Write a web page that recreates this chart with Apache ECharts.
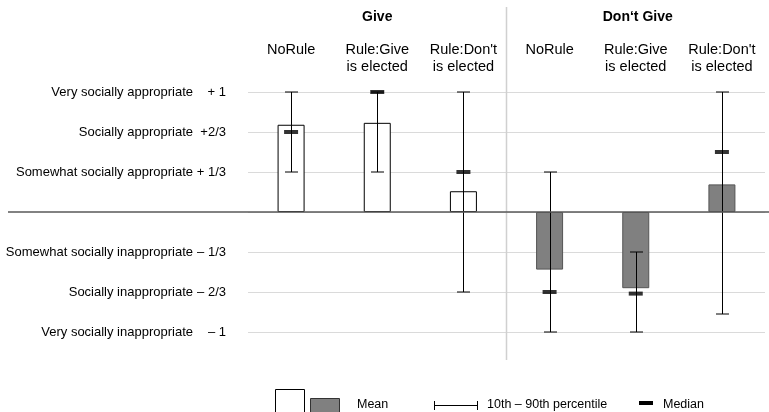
<!DOCTYPE html>
<html><head><meta charset="utf-8">
<script src="https://cdn.jsdelivr.net/npm/echarts@6.0.0/dist/echarts.min.js"></script>
<style>html,body{margin:0;padding:0;background:#fff}#c{width:769px;height:412px}</style>
</head><body><div id="c"></div>
<script>
const categories = ['NoRule', 'Rule:Give\nis elected', "Rule:Don't\nis elected", 'NoRule', 'Rule:Give\nis elected', "Rule:Don't\nis elected"];
const groups = ['Give', 'Don\u2018t Give'];
const meanValues = [0.727, 0.743, 0.173, -0.48, -0.635, 0.23];
const p10Values = [1/3, 1/3, -2/3, -1, -1, -0.85];
const p90Values = [1, 1, 1, 1/3, -1/3, 1];
const medianValues = [2/3, 1, 1/3, -2/3, -0.68, 0.5];
const yTickText = ['Very socially inappropriate', 'Socially inappropriate', 'Somewhat socially inappropriate', '', 'Somewhat socially appropriate', 'Socially appropriate', 'Very socially appropriate'];
const yTickValue = ['\u2013 1', '\u2013 2/3', '\u2013 1/3', '', '+ 1/3', '+2/3', '+ 1'];
const legendTexts = ['Mean', '10th \u2013 90th percentile', 'Median'];

const FONT = "'Liberation Sans', Arial, Helvetica, sans-serif";
const chart = echarts.init(document.getElementById('c'), null, {renderer: 'canvas'});

const option = {
  animation: false,
  textStyle: {fontFamily: FONT, color: '#000'},
  grid: {left: 248, right: 4, top: 92, bottom: 80},
  xAxis: {
    type: 'category', position: 'top', data: categories,
    axisLine: {show: false}, axisTick: {show: false}, splitLine: {show: false},
    axisLabel: {fontSize: 14.5, lineHeight: 17, color: '#000', fontFamily: FONT, verticalAlign: 'top', margin: 51, interval: 0}
  },
  yAxis: {
    type: 'value', min: -1, max: 1, interval: 1/3,
    axisLine: {show: false}, axisTick: {show: false},
    splitLine: {lineStyle: {color: '#dadada', width: 1}},
    axisLabel: {
      margin: 22, color: '#000', fontFamily: FONT, fontSize: 13,
      formatter: function (v) {
        const i = Math.round(v * 3) + 3;
        if (!yTickText[i]) return '';
        return '{a|' + yTickText[i] + '}{b|' + yTickValue[i] + '}';
      },
      rich: {
        a: {fontSize: 13, fontFamily: FONT, color: '#000', padding: [0, 3, 0, 0]},
        b: {fontSize: 13, fontFamily: FONT, color: '#000', width: 30, align: 'right'}
      }
    }
  },
  series: [
    {
      type: 'bar', barWidth: 27, z: 2,
      data: meanValues.map((v, i) => ({
        value: v,
        itemStyle: i < 3 ? {color: '#ffffff', borderColor: '#000', borderWidth: 1}
                         : {color: '#808080', borderColor: '#555', borderWidth: 1}
      }))
    },
    {
      type: 'custom', z: 3,
      data: categories.map((c, i) => [i, p10Values[i], p90Values[i]]),
      encode: {x: 0, y: [1, 2]},
      renderItem: function (params, api) {
        const lo = api.coord([api.value(0), api.value(1)]);
        const hi = api.coord([api.value(0), api.value(2)]);
        const x = Math.round(lo[0]) + 0.5, hw = 6.5;
        const st = {stroke: '#000', lineWidth: 1};
        return {type: 'group', children: [
          {type: 'line', shape: {x1: x, y1: lo[1], x2: x, y2: hi[1]}, style: st},
          {type: 'line', shape: {x1: x - hw, y1: lo[1], x2: x + hw, y2: lo[1]}, style: st},
          {type: 'line', shape: {x1: x - hw, y1: hi[1], x2: x + hw, y2: hi[1]}, style: st}
        ]};
      }
    },
    {
      type: 'scatter', z: 4, symbol: 'rect', symbolSize: [14, 4],
      itemStyle: {color: '#000'},
      data: medianValues.map((v, i) => [i, v])
    }
  ]
};
chart.setOption(option);

const y0 = chart.convertToPixel({yAxisIndex: 0}, 0);
const xs = categories.map((c, i) => chart.convertToPixel({xAxisIndex: 0}, i));
const bw = xs[1] - xs[0];
const gridLeft = xs[0] - bw / 2;
const sepX = (xs[2] + xs[3]) / 2;
const W = chart.getWidth();
const ly = 405;
chart.setOption({
  graphic: [
    {type: 'line', z: 10, shape: {x1: 8, y1: y0, x2: W, y2: y0}, style: {stroke: '#595959', lineWidth: 1.5}},
    {type: 'line', z: 1, shape: {x1: sepX, y1: 7, x2: sepX, y2: 360}, style: {stroke: '#d0d0d0', lineWidth: 1.5}},
    {type: 'text', x: (gridLeft + sepX) / 2, y: 17, style: {text: groups[0], fontSize: 14, fontWeight: 'bold', fontFamily: FONT, fill: '#000', align: 'center', verticalAlign: 'middle'}},
    {type: 'text', x: (sepX + W) / 2, y: 17, style: {text: groups[1], fontSize: 14, fontWeight: 'bold', fontFamily: FONT, fill: '#000', align: 'center', verticalAlign: 'middle'}},
    {type: 'rect', shape: {x: 275.5, y: 389.5, width: 29, height: 30}, style: {fill: '#fff', stroke: '#000', lineWidth: 1}},
    {type: 'rect', shape: {x: 310.5, y: 398.5, width: 29, height: 20}, style: {fill: '#808080', stroke: '#333', lineWidth: 1}},
    {type: 'text', x: 357, y: ly, style: {text: legendTexts[0], fontSize: 12.5, fontFamily: FONT, fill: '#000', verticalAlign: 'middle'}},
    {type: 'line', shape: {x1: 434, y1: ly + 0.5, x2: 478, y2: ly + 0.5}, style: {stroke: '#000', lineWidth: 1}},
    {type: 'line', shape: {x1: 434.5, y1: ly - 4, x2: 434.5, y2: ly + 5}, style: {stroke: '#000', lineWidth: 1}},
    {type: 'line', shape: {x1: 477.5, y1: ly - 4, x2: 477.5, y2: ly + 5}, style: {stroke: '#000', lineWidth: 1}},
    {type: 'text', x: 487, y: ly, style: {text: legendTexts[1], fontSize: 12.5, fontFamily: FONT, fill: '#000', verticalAlign: 'middle'}},
    {type: 'rect', shape: {x: 639, y: 401, width: 14, height: 4}, style: {fill: '#000'}},
    {type: 'text', x: 663, y: ly, style: {text: legendTexts[2], fontSize: 12.5, fontFamily: FONT, fill: '#000', verticalAlign: 'middle'}}
  ]
});
</script>
</body></html>
